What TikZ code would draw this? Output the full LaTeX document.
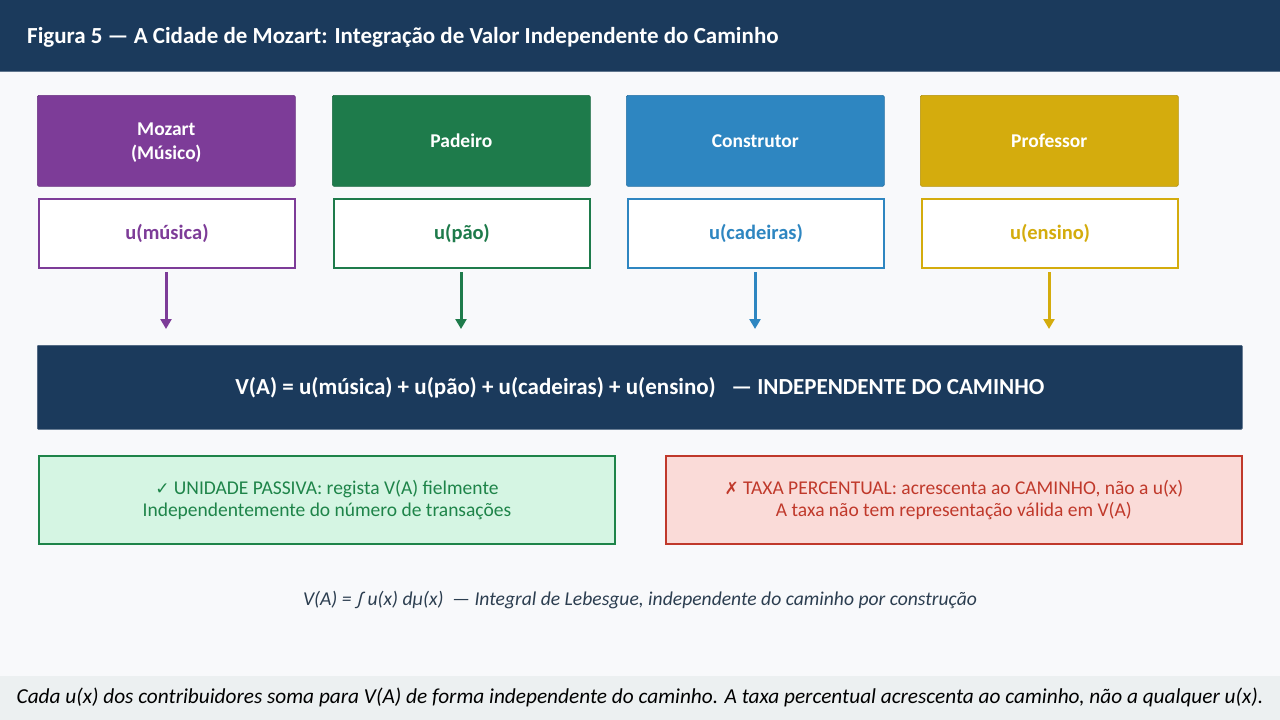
\documentclass[tikz,border=0pt]{standalone}
\usepackage{fontspec}
\setmainfont{Carlito}
\newfontfamily\symfont{DejaVu Sans}
\usetikzlibrary{arrows.meta}
\definecolor{navy}{HTML}{1B3A5C}
\definecolor{bgc}{HTML}{F8F9FB}
\definecolor{cpur}{HTML}{7D3C98}
\definecolor{cgrn}{HTML}{1E7B4B}
\definecolor{cblu}{HTML}{2E86C1}
\definecolor{cgld}{HTML}{D4AC0D}
\definecolor{okfill}{HTML}{D5F5E3}
\definecolor{okline}{HTML}{1E8449}
\definecolor{nofill}{HTML}{FADBD8}
\definecolor{noline}{HTML}{C0392B}
\definecolor{formc}{HTML}{2C3E50}
\definecolor{footc}{HTML}{ECF0F1}
\tikzset{
  headbox/.style={fill=#1, draw=#1!85!black, line width=0.6pt, rounded corners=1.5pt, minimum width=258pt, minimum height=91pt, text=white, font=\fontsize{19.5}{24}\selectfont\bfseries, align=center, anchor=north west, inner sep=0pt},
  valbox/.style={fill=white, draw=#1, line width=2pt, minimum width=256pt, minimum height=69pt, text=#1, font=\fontsize{20.5}{24}\selectfont\bfseries, anchor=north west, inner sep=0pt},
  flow/.style={draw=#1, line width=3pt, -{Triangle[length=10pt,width=11pt]}},
  notebox/.style={line width=1.8pt, minimum width=576pt, minimum height=88pt, align=center, font=\fontsize{19.5}{22}\selectfont, anchor=north west, inner sep=0pt},
}
\begin{document}
\begin{tikzpicture}[x=1pt,y=-1pt]
\useasboundingbox (0,0) rectangle (1280,720);
\fill[bgc] (0,0) rectangle (1280,720);
% header
\fill[navy] (0,0) rectangle (1280,71);
\draw[navy!70!white, line width=1pt] (0,71) -- (1280,71);
\node[anchor=west, text=white, font=\fontsize{23}{26}\selectfont\bfseries, inner sep=0pt] (title) at (27,37) {Figura 5 — A Cidade de Mozart: Integração de Valor Independente do Caminho};
% role boxes
\node[headbox=cpur, text depth=-2pt] (h1) at (37,95) {Mozart\\(Músico)};
\node[headbox=cgrn] (h2) at (332,95) {Padeiro};
\node[headbox=cblu] (h3) at (626,95) {Construtor};
\node[headbox=cgld] (h4) at (920,95) {Professor};
\node[valbox=cpur] (v1) at (38,198) {u(música)};
\node[valbox=cgrn] (v2) at (333,198) {u(pão)};
\node[valbox=cblu] (v3) at (627,198) {u(cadeiras)};
\node[valbox=cgld] (v4) at (921,198) {u(ensino)};
% main box
\node[fill=navy, draw=navy!80!white, line width=0.6pt, rounded corners=1pt, minimum width=1205pt, minimum height=84pt, anchor=north west, inner sep=0pt, text=white, font=\fontsize{23}{26}\selectfont\bfseries] (main) at (37,345) {V(A) = u(música) + u(pão) + u(cadeiras) + u(ensino) \ \ — INDEPENDENTE DO CAMINHO};
% arrows
\coordinate (e1) at (166,329);
\coordinate (e2) at (461,329);
\coordinate (e3) at (755,329);
\coordinate (e4) at (1049,329);
\draw[flow=cpur] ([yshift=-3pt]v1.south -| e1) -- (e1);
\draw[flow=cgrn] ([yshift=-3pt]v2.south -| e2) -- (e2);
\draw[flow=cblu] ([yshift=-3pt]v3.south -| e3) -- (e3);
\draw[flow=cgld] ([yshift=-3pt]v4.south -| e4) -- (e4);
% notes
\node[notebox, fill=okfill, draw=okline, text=okline] (ok) at (38,455) {{\symfont\fontsize{17}{22}\selectfont ✓} UNIDADE PASSIVA: regista V(A) fielmente\\Independentemente do número de transações};
\node[notebox, fill=nofill, draw=noline, text=noline] (no) at (665,455) {{\symfont\fontsize{17}{22}\selectfont ✗} TAXA PERCENTUAL: acrescenta ao CAMINHO, não a u(x)\\A taxa não tem representação válida em V(A)};
% formula
\node[text=formc, font=\fontsize{19.6}{22}\selectfont\itshape, inner sep=0pt] (form) at (640,600) {V(A) = ∫ u(x) dμ(x) \ — Integral de Lebesgue, independente do caminho por construção};
% footer
\fill[footc] (0,676) rectangle (1280,720);
\node[text=black, font=\fontsize{21.3}{24}\selectfont\itshape, inner sep=0pt] (foot) at (640,697) {Cada u(x) dos contribuidores soma para V(A) de forma independente do caminho. A taxa percentual acrescenta ao caminho, não a qualquer u(x).};
\end{tikzpicture}
\end{document}
